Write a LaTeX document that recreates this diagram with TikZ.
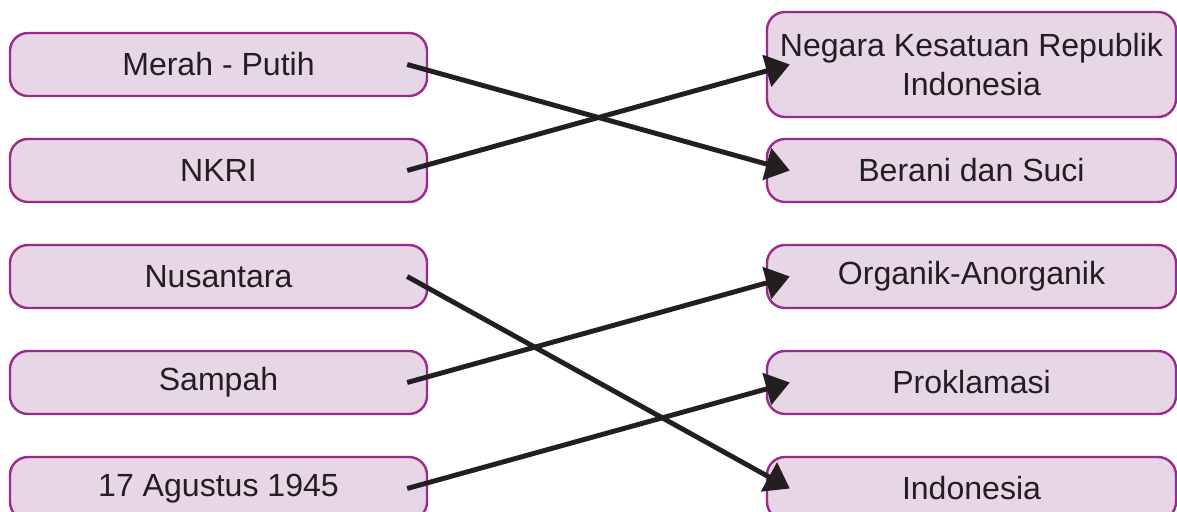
\documentclass[tikz,border=0pt]{standalone}
\usepackage{fontspec}
\setmainfont{Liberation Sans}
\usepackage{tikz}
\usetikzlibrary{calc}
\usetikzlibrary{arrows.meta}
\definecolor{boxfill}{HTML}{E6D6E6}
\definecolor{boxline}{HTML}{9B2A8C}
\definecolor{ink}{HTML}{231F20}
\tikzset{item/.style={rectangle,rounded corners=0.45cm,fill=boxfill,draw=boxline,line width=1.7pt,
  minimum width=10.425cm,minimum height=1.575cm,inner sep=0pt,align=center,text=ink,
  font=\fontsize{22.8}{28}\selectfont}}
\tikzset{answer/.style={item,minimum width=10.225cm}}
\tikzset{link/.style={line width=3.5pt,draw=ink,-{Triangle[length=17pt,width=23pt]}}}

\begin{document}
\begin{tikzpicture}
\useasboundingbox (0,0) rectangle (29.425,-12.8);

\node[item] (l1) at (5.4625,-1.6125) {Merah - Putih};
\node[item] (l2) at (5.4625,-4.2625) {NKRI};
\node[item] (l3) at (5.4625,-6.9125) {Nusantara};
\node[item] (l4) at (5.4625,-9.5625) {Sampah};
\node[item] (l5) at (5.4625,-12.2125) {17 Agustus 1945};

\node[answer,minimum height=2.625cm] (r1) at (24.2875,-1.6125) {Negara Kesatuan Republik\\Indonesia};
\node[answer] (r2) at (24.2875,-4.2625) {Berani dan Suci};
\node[answer] (r3) at (24.2875,-6.9125) {Organik-Anorganik};
\node[answer] (r4) at (24.2875,-9.5625) {Proklamasi};
\node[answer] (r5) at (24.2875,-12.2125) {Indonesia};

%\draw[link] (l1) -- (r2);
\draw[link] ($(l1.east)+(-0.525,0)$) -- ($(r2.west)+(0.6,0)$);
\draw[link] ($(l2.east)+(-0.525,0)$) -- ($(r1.west)+(0.6,0)$);
\draw[link] ($(l3.east)+(-0.525,0)$) -- ($(r5.west)+(0.6,0)$);
\draw[link] ($(l4.east)+(-0.525,0)$) -- ($(r3.west)+(0.6,0)$);
\draw[link] ($(l5.east)+(-0.525,0)$) -- ($(r4.west)+(0.6,0)$);

\end{tikzpicture}
\end{document}
